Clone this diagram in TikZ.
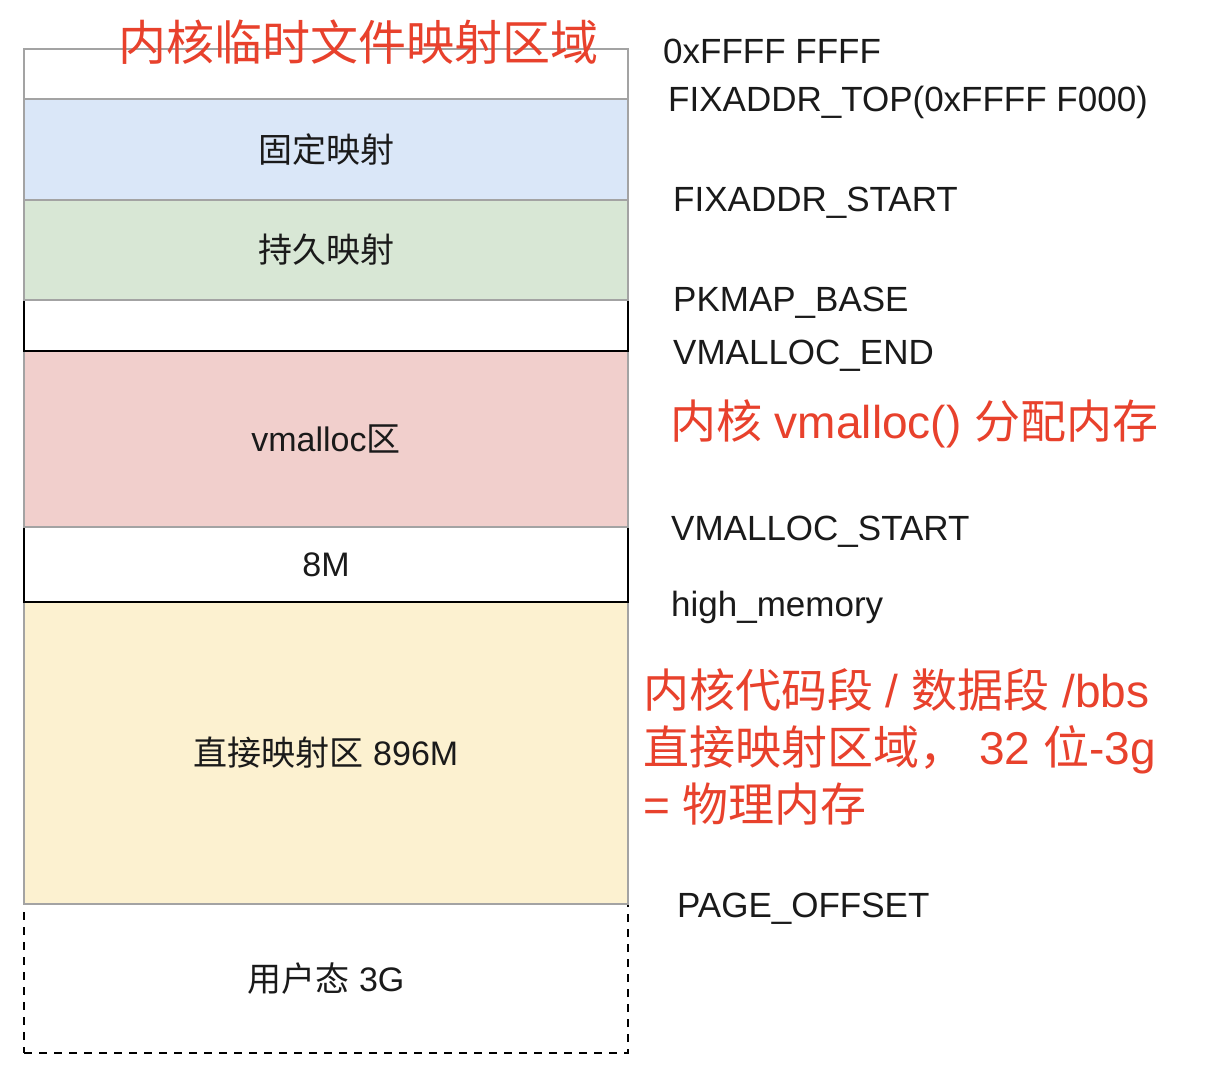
\documentclass[tikz,border=0pt]{standalone}
\usepackage{fontspec}
\setmainfont{Liberation Sans}
\newfontfamily\cjk{Noto Sans CJK SC}
\definecolor{segGray}{HTML}{A3A3A3}
\definecolor{fixBlue}{HTML}{DAE7F8}
\definecolor{pkGreen}{HTML}{D8E7D5}
\definecolor{vmPink}{HTML}{F1CFCC}
\definecolor{dirYellow}{HTML}{FCF1D0}
\definecolor{noteRed}{HTML}{E8412C}
\definecolor{ink}{HTML}{1A1A1A}
\begin{document}
\begin{tikzpicture}[x=1pt,y=-1pt,
  seg/.style={draw=segGray, line width=2pt, minimum width=604pt, inner sep=0pt,
    text=ink, font=\fontsize{34}{40}\selectfont},
  blk/.style={seg, draw=black},
  userbox/.style={seg, draw=black, dash pattern=on 8pt off 7pt},
  addr/.style={anchor=west, inner sep=0pt, text=ink, font=\fontsize{35}{42}\selectfont},
  note/.style={anchor=west, inner sep=0pt, text=noteRed, align=left,
    font=\fontsize{46}{57}\selectfont}]
\useasboundingbox (0,0) rectangle (1208,1078);
\fill[white] (0,0) rectangle (1208,1078);
% segments (drawn in an order that gives the reference's edge colours)
\node[userbox, minimum height=149pt] (user) at (326,978.5) {{\cjk 用户态} 3G};
\node[seg, fill=dirYellow, minimum height=302pt] (direct) at (326,753) {{\cjk 直接映射区} 896M};
\node[blk, fill=white, minimum height=75pt] (eight) at (326,564.5) {8M};
\node[seg, fill=vmPink, minimum height=176pt] (vm) at (326,439) {vmalloc{\cjk 区}};
\node[blk, fill=white, minimum height=51pt] (gap) at (326,325.5) {};
\node[seg, fill=pkGreen, minimum height=100pt] (pk) at (326,250) {\cjk 持久映射};
\node[seg, fill=fixBlue, minimum height=101pt] (fix) at (326,149.5) {\cjk 固定映射};
\node[seg, fill=white, minimum height=50pt] (top) at (326,74) {};
% title
\node[note, font=\fontsize{48}{56}\selectfont] (title) at (118,42) {\cjk 内核临时文件映射区域};
% address labels
\node[addr] (a1) at (663,51) {0xFFFF FFFF};
\node[addr] (a2) at (668,102) {FIXADDR\_TOP(0xFFFF F000)};
\node[addr] (a3) at (673,203) {FIXADDR\_START};
\node[addr] (a4) at (673,303) {PKMAP\_BASE};
\node[addr] (a5) at (673,356) {VMALLOC\_END};
\node[addr] (a6) at (671,532) {VMALLOC\_START};
\node[addr] (a7) at (671,607) {high\_memory};
\node[addr] (a8) at (677,909) {PAGE\_OFFSET};
% red notes
\node[note] (n1) at (670,424) {{\cjk 内核} vmalloc() {\cjk 分配内存}};
\node[note, anchor=north west] (n2) at (643,668) {{\cjk 内核代码段} / {\cjk 数据段} /bbs\\
{\cjk 直接映射区域，}\hspace{14pt}32 {\cjk 位}-3g\\
= {\cjk 物理内存}};
\end{tikzpicture}
\end{document}
